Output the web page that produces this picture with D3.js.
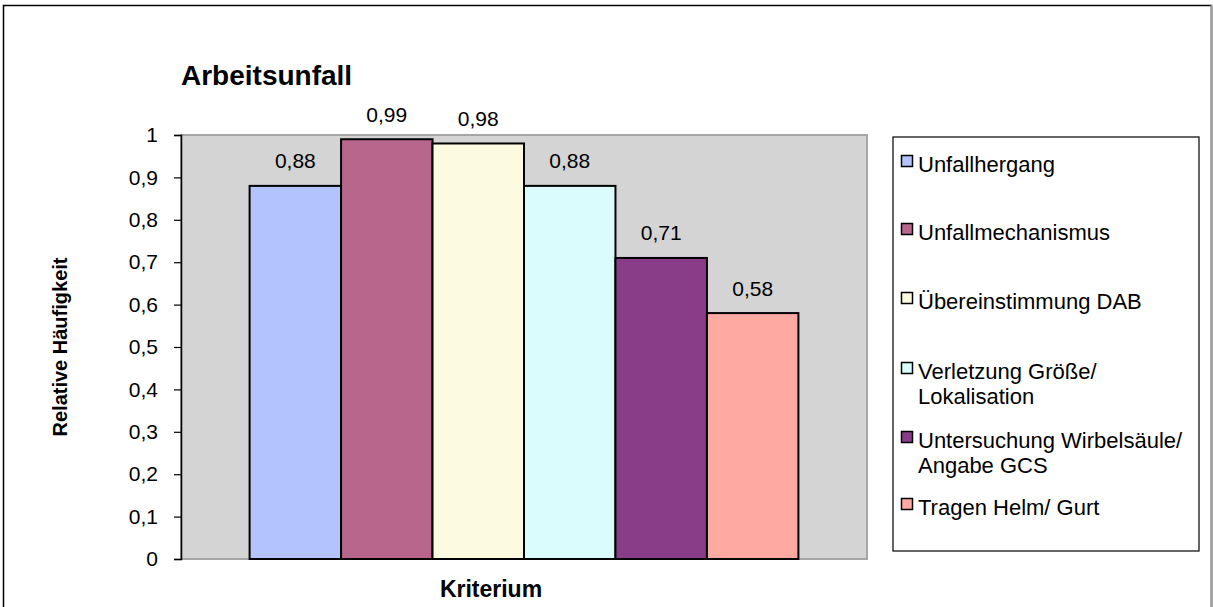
<!DOCTYPE html>
<html>
<head>
<meta charset="utf-8">
<script src="https://cdn.jsdelivr.net/npm/d3@7"></script>
<style>
  html, body { margin: 0; padding: 0; background: #fff; }
  svg { display: block; font-family: "Liberation Sans", Arial, sans-serif; }
</style>
</head>
<body>
<svg id="chart" width="1213" height="607"></svg>
<script>
// Criteria and their relative frequencies
const categories = ["Unfallhergang", "Unfallmechanismus", "Übereinstimmung DAB",
  "Verletzung Größe/ Lokalisation", "Untersuchung Wirbelsäule/ Angabe GCS", "Tragen Helm/ Gurt"];
const values = [0.88, 0.99, 0.98, 0.88, 0.71, 0.58];
const valueLabels = ["0,88", "0,99", "0,98", "0,88", "0,71", "0,58"];
const colors = ["#b3c3fb", "#b8668b", "#fdfbdf", "#dafcfd", "#893c87", "#ffa9a3"];
const legendLines = [["Unfallhergang"], ["Unfallmechanismus"], ["Übereinstimmung DAB"],
  ["Verletzung Größe/", "Lokalisation"], ["Untersuchung Wirbelsäule/", "Angabe GCS"], ["Tragen Helm/ Gurt"]];
const yTicks = [0, 0.1, 0.2, 0.3, 0.4, 0.5, 0.6, 0.7, 0.8, 0.9, 1];
const title = "Arbeitsunfall";
const yTitle = "Relative Häufigkeit";
const xTitle = "Kriterium";

const svg = d3.select("#chart");
const plot = { left: 181, top: 135, right: 867, bottom: 559 };

// outer frame
svg.append("rect").attr("x", 3.5).attr("y", 5.5).attr("width", 1208).attr("height", 620)
  .attr("fill", "none").attr("stroke", "#000").attr("stroke-width", 1.5);
svg.append("line").attr("x1", 1211.5).attr("x2", 1211.5).attr("y1", 5).attr("y2", 607)
  .attr("stroke", "#9a9a9a").attr("stroke-width", 2);

const y = d3.scaleLinear().domain([0, 1]).range([plot.bottom, plot.top]);
const x = d3.scaleBand().domain(categories).range([plot.left, plot.right])
  .paddingInner(0).paddingOuter(0.75);

// plot area
svg.append("rect").attr("x", plot.left).attr("y", plot.top)
  .attr("width", plot.right - plot.left).attr("height", plot.bottom - plot.top)
  .attr("fill", "#d4d4d4").attr("stroke", "#a6a6a6").attr("stroke-width", 2);

// bars
svg.append("g").selectAll("rect").data(values).join("rect")
  .attr("x", (d, i) => x(categories[i]))
  .attr("y", d => y(d))
  .attr("width", x.bandwidth())
  .attr("height", d => y(0) - y(d))
  .attr("fill", (d, i) => colors[i])
  .attr("stroke", "#000").attr("stroke-width", 2);

// value labels
svg.append("g").selectAll("text").data(values).join("text")
  .attr("x", (d, i) => x(categories[i]) + x.bandwidth() / 2)
  .attr("y", d => y(d) - 17.5)
  .attr("text-anchor", "middle")
  .attr("font-size", 21).attr("fill", "#000")
  .text((d, i) => valueLabels[i]);

// y axis
const yAxis = d3.axisLeft(y).tickValues(yTicks).tickSize(7).tickPadding(16)
  .tickFormat(d => d3.format(".1~f")(d).replace(".", ","));
const ga = svg.append("g").attr("transform", `translate(${plot.left},0)`).call(yAxis);
ga.select(".domain").attr("stroke", "#000").attr("stroke-width", 1.5);
ga.selectAll(".tick line").attr("stroke", "#000").attr("stroke-width", 1.2);
ga.selectAll(".tick text").attr("font-size", 21).attr("fill", "#000")
  .attr("font-family", "'Liberation Sans', Arial, sans-serif");

// titles
svg.append("text").attr("x", 181).attr("y", 85).attr("font-size", 28)
  .attr("font-weight", "bold").text(title);
svg.append("text").attr("transform", "translate(67,347) rotate(-90)")
  .attr("text-anchor", "middle").attr("font-size", 20).attr("font-weight", "bold").text(yTitle);
svg.append("text").attr("x", 491).attr("y", 597)
  .attr("text-anchor", "middle").attr("font-size", 23).attr("font-weight", "bold").text(xTitle);

// legend
const lg = svg.append("g");
lg.append("rect").attr("x", 893).attr("y", 137).attr("width", 306).attr("height", 414)
  .attr("fill", "#fff").attr("stroke", "#000").attr("stroke-width", 1.2);
const swatchTop = [155, 223, 292, 362, 431, 498];
const items = lg.selectAll("g.item").data(legendLines).join("g").attr("class", "item")
  .attr("transform", (d, i) => `translate(901,${swatchTop[i]})`);
items.append("rect").attr("x", 0.5).attr("y", 0.5).attr("width", 11).attr("height", 11)
  .attr("fill", (d, i) => colors[i]).attr("stroke", "#000").attr("stroke-width", 1.5);
items.each(function(lines) {
  const t = d3.select(this).append("text").attr("y", 17).attr("font-size", 22);
  lines.forEach((l, j) => t.append("tspan").attr("x", 17).attr("dy", j === 0 ? 0 : 25).text(l));
});
</script>
</body>
</html>
